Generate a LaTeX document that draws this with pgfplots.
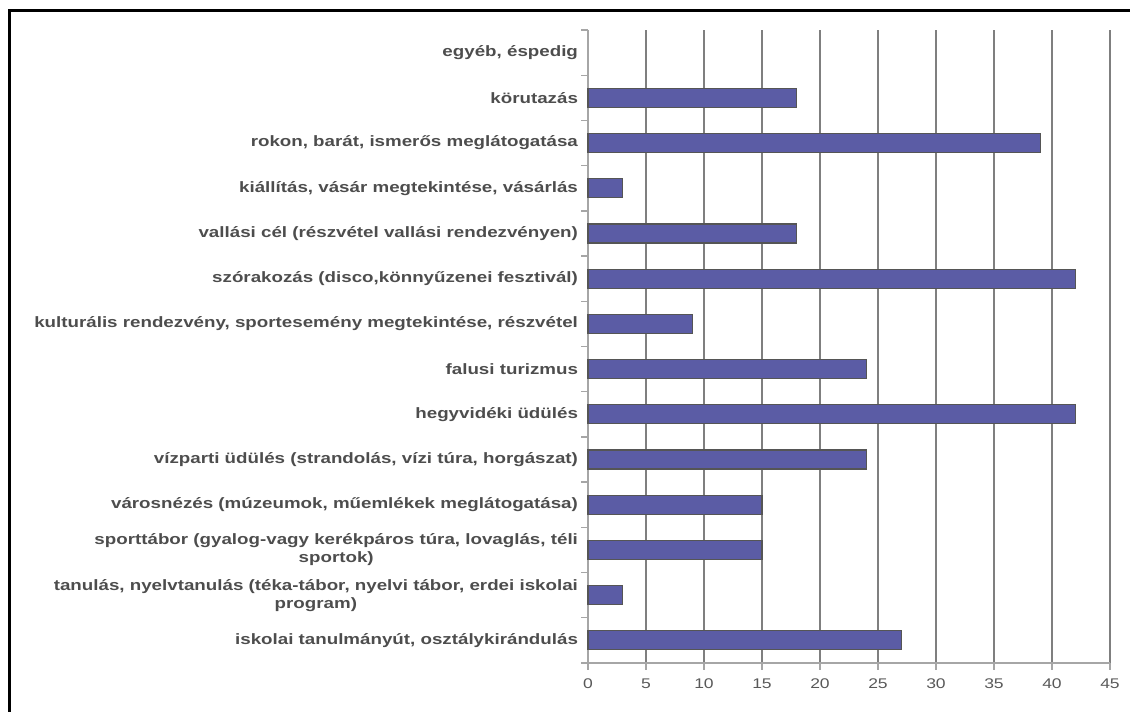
\documentclass[border=0pt]{standalone}
\usepackage{fontspec}
\setmainfont{Liberation Sans}[FakeStretch=1.25]
\usepackage{pgfplots}
\pgfplotsset{compat=1.18}

\definecolor{barfill}{HTML}{5B5CA5}
\definecolor{barline}{HTML}{555555}
\definecolor{labelgray}{HTML}{4D4D4D}
\definecolor{tickgray}{HTML}{595959}
\definecolor{gridgray}{HTML}{7F7F7F}
\definecolor{axisgray}{HTML}{A6A6A6}

\begin{document}
\begin{tikzpicture}
\begin{axis}[
    at={(0,0)}, anchor=south west,
    scale only axis,
    width=391.5pt, height=474.75pt,
    xbar, bar width=14.25pt,
    xmin=0, xmax=45,
    ymin=-0.5, ymax=13.5,
    xtick={0,5,...,45},
    ytick={0,...,13},
    minor ytick={-0.5,0.5,...,13.5},
    yticklabels={
        {iskolai tanulmányút, osztálykirándulás},
        {tanulás, nyelvtanulás (téka-tábor, nyelvi tábor, erdei iskolai\\program)},
        {sporttábor (gyalog-vagy kerékpáros túra, lovaglás, téli\\sportok)},
        {városnézés (múzeumok, műemlékek meglátogatása)},
        {vízparti üdülés (strandolás, vízi túra, horgászat)},
        {hegyvidéki üdülés},
        {falusi turizmus},
        {kulturális rendezvény, sportesemény megtekintése, részvétel},
        {szórakozás (disco,könnyűzenei fesztivál)},
        {vallási cél (részvétel vallási rendezvényen)},
        {kiállítás, vásár megtekintése, vásárlás},
        {rokon, barát, ismerős meglátogatása},
        {körutazás},
        {egyéb, éspedig}
    },
    axis x line*=bottom, axis y line*=left,
    axis line style={axisgray, line width=1.5pt, -},
    xmajorgrids, major grid style={gridgray, line width=0.9pt},
    major y tick style={draw=none},
    minor y tick style={axisgray, line width=1pt},
    major x tick style={axisgray, line width=1pt},
    tick align=outside,
    major tick length=5pt, minor tick length=5pt,
    yticklabel style={font=\bfseries\fontsize{11.25pt}{13.5pt}\selectfont, text=labelgray, align=center, xshift=1pt},
    xticklabel style={font=\fontsize{10.5pt}{12pt}\selectfont, text=tickgray, yshift=-3pt},
    /pgf/number format/assume math mode=true,
    clip=false,
]
% egyéb, éspedig has the value 0 and no bar
\addplot[fill=barfill, draw=barline, line width=0.9pt] coordinates {
    (27,0) (3,1) (15,2) (15,3) (24,4) (42,5) (24,6)
    (9,7) (42,8) (18,9) (3,10) (39,11) (18,12)
};
\end{axis}
\draw[black, line width=2.25pt] (-433.9pt,-40pt) -- (-433.9pt,489pt) -- (410pt,489pt);
\pgfresetboundingbox
\path (-441pt,-36pt) rectangle (406.5pt,497.25pt);
\end{tikzpicture}
\end{document}
